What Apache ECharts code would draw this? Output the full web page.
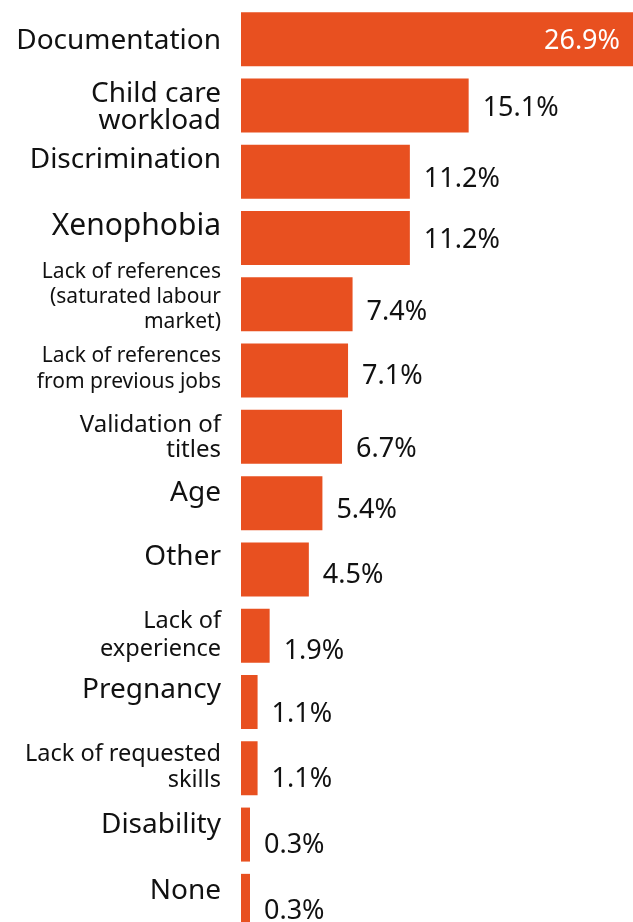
<!DOCTYPE html>
<html>
<head>
<meta charset="utf-8">
<script src="https://cdn.jsdelivr.net/npm/echarts@6/dist/echarts.min.js"></script>
<style>
  html, body { margin: 0; padding: 0; background: #fff; }
  #chart { width: 633px; height: 922px; }
</style>
</head>
<body>
<div id="chart"></div>
<script>
// Reasons reported as barriers to finding work (share of responses, %)
const categories = [
  'Documentation',
  'Child care\nworkload',
  'Discrimination',
  'Xenophobia',
  'Lack of references\n(saturated labour\nmarket)',
  'Lack of references\nfrom previous jobs',
  'Validation of\ntitles',
  'Age',
  'Other',
  'Lack of\nexperience',
  'Pregnancy',
  'Lack of requested\nskills',
  'Disability',
  'None'
];
const values = [26.9, 15.1, 11.2, 11.2, 7.4, 7.1, 6.7, 5.4, 4.5, 1.9, 1.1, 1.1, 0.3, 0.3];

// Per-category label typography: font size, line height, upward nudge (px)
const labelLook = [
  { size: 28, lh: 32, shift: -2 },
  { size: 28, lh: 27, shift: -2 },
  { size: 28, lh: 32, shift: 12 },
  { size: 30, lh: 34, shift: 12 },
  { size: 21, lh: 25, shift: 7 },
  { size: 21, lh: 26, shift: 2 },
  { size: 24, lh: 25, shift: -1 },
  { size: 28, lh: 32, shift: 10 },
  { size: 28, lh: 32, shift: 12 },
  { size: 23.5, lh: 28, shift: 0 },
  { size: 28, lh: 32, shift: 12 },
  { size: 23.5, lh: 26, shift: 1 },
  { size: 28, lh: 32, shift: 10 },
  { size: 28, lh: 32, shift: 10 }
];
// Downward nudge of each value label (px)
const valueDrop = [2, 3, 8, 2, 8, 6, 12, 7, 6, 16, 12, 11, 11, 10];

const FONT = '"Noto Sans", "Open Sans", sans-serif';
const BAR = '#E85020';
const INK = '#111111';

const rich = {};
labelLook.forEach((s, i) => {
  rich['c' + i] = { fontSize: s.size, lineHeight: s.lh, fontFamily: FONT, color: INK, align: 'right' };
  // spacer line used to nudge the label block up or down
  rich['g' + i] = { fontSize: 1, lineHeight: Math.max(1, 2 * Math.abs(s.shift)), fontFamily: FONT, color: 'rgba(0,0,0,0)' };
});

const seriesData = values.map((v, i) => {
  const item = { value: v, label: { offset: [0, valueDrop[i]] } };
  if (i === 0) {
    item.label.position = 'insideRight';
    item.label.color = '#ffffff';
    item.label.distance = 13;
  }
  return item;
});

const chart = echarts.init(document.getElementById('chart'), null, { renderer: 'canvas' });
chart.setOption({
  animation: false,
  backgroundColor: '#ffffff',
  grid: { left: 241, right: 0, top: 6, height: 928, outerBoundsMode: 'none', containLabel: false },
  xAxis: {
    type: 'value',
    min: 0,
    max: 26,
    show: false
  },
  yAxis: {
    type: 'category',
    inverse: true,
    data: categories,
    axisLine: { show: false },
    axisTick: { show: false },
    splitLine: { show: false },
    axisLabel: {
      margin: 20,
      interval: 0,
      formatter: (value, index) => {
        const s = labelLook[index].shift;
        const body = value.split('\n').map(l => '{c' + index + '|' + l + '}').join('\n');
        const spacer = '{g' + index + '| }';
        if (s > 0) return body + '\n' + spacer;
        if (s < 0) return spacer + '\n' + body;
        return body;
      },
      rich: rich
    }
  },
  series: [{
    type: 'bar',
    data: seriesData,
    barWidth: 54,
    barMinHeight: 9,
    itemStyle: { color: BAR },
    clip: true,
    label: {
      show: true,
      position: 'right',
      distance: 14,
      formatter: p => p.value.toFixed(1) + '%',
      fontFamily: FONT,
      fontSize: 27,
      color: INK
    }
  }]
});
</script>
</body>
</html>
